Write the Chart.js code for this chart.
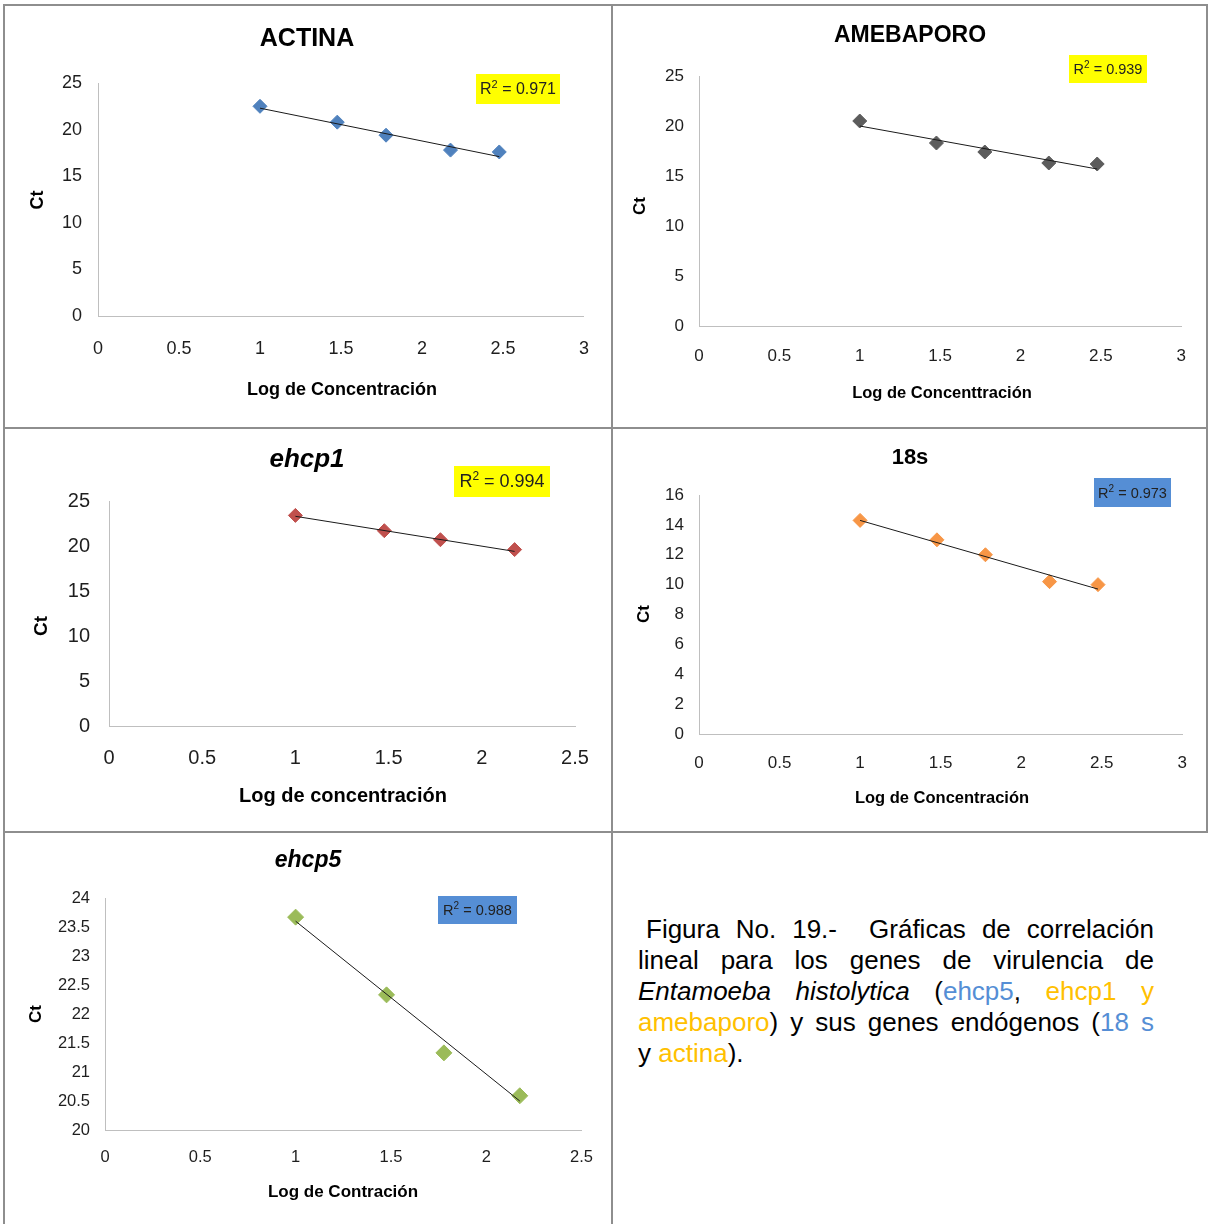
<!DOCTYPE html>
<html>
<head>
<meta charset="utf-8">
<script src="https://cdn.jsdelivr.net/npm/chart.js@4.4.1/dist/chart.umd.min.js"></script>
<style>
body { margin: 0; background: #fff; width: 1208px; height: 1224px; position: relative; overflow: hidden; }
canvas { position: absolute; }
.ln { position: absolute; background: #8e8e8e; }
#caption { position: absolute; left: 638px; top: 914px; width: 516px; font: 26px 'Liberation Sans', Arial, sans-serif; line-height: 31px; color: #000; }
#caption div { text-align: justify; text-align-last: justify; }
#caption div.first { padding-left: 8px; }
#caption div.last { text-align-last: left; }
.b { color: #558ed5; }
.y { color: #ffc000; }
</style>
</head>
<body>
<div class="ln" style="left:3px;top:4px;width:1205px;height:2px"></div>
<div class="ln" style="left:3px;top:4px;width:2px;height:1220px"></div>
<div class="ln" style="left:1206px;top:4px;width:2px;height:829px"></div>
<div class="ln" style="left:611px;top:4px;width:2px;height:1220px"></div>
<div class="ln" style="left:3px;top:427px;width:1205px;height:2px"></div>
<div class="ln" style="left:3px;top:831px;width:1205px;height:2px"></div>

<canvas id="c1"></canvas>
<canvas id="c2"></canvas>
<canvas id="c3"></canvas>
<canvas id="c4"></canvas>
<canvas id="c5"></canvas>

<div id="caption">
  <div class="first">Figura No. 19.-&nbsp; Gráficas de correlación</div>
  <div>lineal para los genes de virulencia de</div>
  <div><i>Entamoeba histolytica</i> (<span class="b">ehcp5</span>, <span class="y">ehcp1 y</span></div>
  <div><span class="y">amebaporo</span>) y sus genes endógenos (<span class="b">18 s</span></div>
  <div class="last">y <span class="y">actina</span>).</div>
</div>

<script>
// log de concentración (10, 30, 60, 150, 300)
const xLog = [1, 1.477, 1.778, 2.176, 2.477];
const xLog4 = [1, 1.477, 1.778, 2.176];

const actinaCt = [22.5, 20.8, 19.4, 17.8, 17.6];
const amebaporoCt = [20.5, 18.3, 17.4, 16.3, 16.2];
const ehcp1Ct = [23.4, 21.7, 20.7, 19.6];
const s18Ct = [14.3, 13.0, 12.0, 10.2, 10.0];
const ehcp5Ct = [23.67, 22.33, 21.33, 20.59];

// línea de tendencia: Ct al inicio y al final
const trendActina = [22.3, 17.1];
const trendAmebaporo = [20.0, 15.7];
const trendEhcp1 = [23.3, 19.4];
const trendS18 = [14.3, 9.7];
const trendEhcp5 = [23.6, 20.5];

// R cuadrado
const r2Values = ['0.971', '0.939', '0.994', '0.973', '0.988'];

const SANS = "'Liberation Sans',Arial,sans-serif";

const panels = [
  { id: 'c1', cell: [5, 6, 606, 421], area: [98, 83, 586, 316], xMax: 3, yMin: 0, yMax: 25, yStep: 5,
    xs: xLog, ys: actinaCt, trend: trendActina, color: '#4f81bd', r: 7,
    tickSize: 18, xPad: 22, yPad: 16,
    title: 'ACTINA', titleFont: 'bold 25px ' + SANS, titlePos: [307, 39],
    xTitle: 'Log de Concentración', xTitleFont: 'bold 18px ' + SANS, xTitlePos: [342, 390],
    yTitleFont: 'bold 18px ' + SANS, yTitlePos: [38, 200],
    r2: r2Values[0], box: [476, 74, 84, 30], boxColor: '#ffff00', r2Size: 16 },
  { id: 'c2', cell: [614, 6, 592, 421], area: [699, 76, 1185, 326], xMax: 3, yMin: 0, yMax: 25, yStep: 5,
    xs: xLog, ys: amebaporoCt, trend: trendAmebaporo, color: '#5c5c5c', r: 7,
    tickSize: 17, xPad: 20, yPad: 15,
    title: 'AMEBAPORO', titleFont: 'bold 23px ' + SANS, titlePos: [910, 36],
    xTitle: 'Log de Concenttración', xTitleFont: 'bold 16.5px ' + SANS, xTitlePos: [942, 393],
    yTitleFont: 'bold 17px ' + SANS, yTitlePos: [640, 206],
    r2: r2Values[1], box: [1069, 55, 78, 28], boxColor: '#ffff00', r2Size: 14.5 },
  { id: 'c3', cell: [5, 429, 606, 402], area: [109, 501, 575, 726], xMax: 2.5, yMin: 0, yMax: 25, yStep: 5,
    xs: xLog4, ys: ehcp1Ct, trend: trendEhcp1, color: '#c0504d', r: 7,
    tickSize: 20, xPad: 20, yPad: 19,
    title: 'ehcp1', titleFont: 'italic bold 26px ' + SANS, titlePos: [307, 460],
    xTitle: 'Log de concentración', xTitleFont: 'bold 20px ' + SANS, xTitlePos: [343, 796],
    yTitleFont: 'bold 19px ' + SANS, yTitlePos: [42, 626],
    r2: r2Values[2], box: [454, 466, 96, 31], boxColor: '#ffff00', r2Size: 18 },
  { id: 'c4', cell: [614, 429, 592, 402], area: [699, 495, 1185, 734], xMax: 3, yMin: 0, yMax: 16, yStep: 2,
    xs: xLog, ys: s18Ct, trend: trendS18, color: '#f79646', r: 7,
    tickSize: 17, xPad: 19, yPad: 15,
    title: '18s', titleFont: 'bold 22px ' + SANS, titlePos: [910, 458],
    xTitle: 'Log de Concentración', xTitleFont: 'bold 16.5px ' + SANS, xTitlePos: [942, 798],
    yTitleFont: 'bold 17px ' + SANS, yTitlePos: [644, 614],
    r2: r2Values[3], box: [1094, 478, 77, 29], boxColor: '#558ed5', r2Size: 14.5 },
  { id: 'c5', cell: [5, 833, 606, 391], area: [105, 898, 582, 1130], xMax: 2.5, yMin: 20, yMax: 24, yStep: 0.5,
    xs: xLog4, ys: ehcp5Ct, trend: trendEhcp5, color: '#9bbb59', r: 8,
    tickSize: 16.5, xPad: 18, yPad: 15,
    title: 'ehcp5', titleFont: 'italic bold 23px ' + SANS, titlePos: [308, 861],
    xTitle: 'Log de Contración', xTitleFont: 'bold 17px ' + SANS, xTitlePos: [343, 1192],
    yTitleFont: 'bold 17px ' + SANS, yTitlePos: [36, 1014],
    r2: r2Values[4], box: [438, 896, 79, 28], boxColor: '#558ed5', r2Size: 14.5 }
];

// textos de cada panel (título, ejes, caja de R²)
const panelText = {
  id: 'panelText',
  afterDraw(chart, args, o) {
    const p = o.p;
    const ox = p.cell[0], oy = p.cell[1];
    const c = chart.ctx;
    c.save();
    c.fillStyle = '#000';
    c.textAlign = 'center';
    c.textBaseline = 'middle';
    c.font = p.titleFont;
    c.fillText(p.title, p.titlePos[0] - ox, p.titlePos[1] - oy);
    c.font = p.xTitleFont;
    c.fillText(p.xTitle, p.xTitlePos[0] - ox, p.xTitlePos[1] - oy);
    c.save();
    c.translate(p.yTitlePos[0] - ox, p.yTitlePos[1] - oy);
    c.rotate(-Math.PI / 2);
    c.font = p.yTitleFont;
    c.fillText('Ct', 0, 0);
    c.restore();

    // caja R²
    const bx = p.box[0] - ox, by = p.box[1] - oy;
    c.fillStyle = p.boxColor;
    c.fillRect(bx, by, p.box[2], p.box[3]);
    const big = p.r2Size + 'px ' + SANS;
    const small = Math.round(p.r2Size * 0.68) + 'px ' + SANS;
    const rest = ' = ' + p.r2;
    c.font = big;
    const wR = c.measureText('R').width, wRest = c.measureText(rest).width;
    c.font = small;
    const w2 = c.measureText('2').width;
    let x = bx + (p.box[2] - wR - w2 - wRest) / 2;
    const cy = by + p.box[3] / 2 + 1;
    c.fillStyle = '#222';
    c.textAlign = 'left';
    c.font = big;
    c.fillText('R', x, cy);
    x += wR;
    c.font = small;
    c.fillText('2', x, cy - p.r2Size * 0.32);
    x += w2;
    c.font = big;
    c.fillText(rest, x, cy);
    c.restore();
  }
};

const fmt = v => String(Math.round(v * 10) / 10);

panels.forEach(p => {
  const cv = document.getElementById(p.id);
  const [cx, cy, cw, ch] = p.cell;
  cv.style.left = cx + 'px';
  cv.style.top = cy + 'px';
  cv.width = cw;
  cv.height = ch;

  const points = p.xs.map((x, i) => ({ x: x, y: p.ys[i] }));
  const trendPts = [
    { x: p.xs[0], y: p.trend[0] },
    { x: p.xs[p.xs.length - 1], y: p.trend[1] }
  ];

  // área deseada en coordenadas del canvas
  const want = { left: p.area[0] - cx, top: p.area[1] - cy, right: p.area[2] - cx, bottom: p.area[3] - cy };
  const size = { w: want.left, h: ch - want.bottom };

  const chart = new Chart(cv, {
    type: 'scatter',
    data: {
      datasets: [
        {
          type: 'line',
          data: trendPts,
          borderColor: '#1a1a1a',
          borderWidth: 1,
          pointRadius: 0,
          fill: false
        },
        {
          data: points,
          pointStyle: 'rectRot',
          pointRadius: p.r,
          pointBackgroundColor: p.color,
          pointBorderColor: p.color,
          pointBorderWidth: 1
        }
      ]
    },
    options: {
      responsive: false,
      animation: false,
      devicePixelRatio: 1,
      layout: { padding: { left: 0, top: want.top, right: cw - want.right, bottom: 0 } },
      plugins: {
        legend: { display: false },
        tooltip: { enabled: false },
        panelText: { p: p }
      },
      scales: {
        x: {
          type: 'linear',
          min: 0,
          max: p.xMax,
          grid: { display: false, drawTicks: false },
          border: { display: true, color: '#bfbfbf', width: 1 },
          ticks: { stepSize: 0.5, padding: p.xPad, color: '#1e1e1e', font: { family: SANS, size: p.tickSize }, callback: fmt },
          afterFit: s => { s.height = size.h; }
        },
        y: {
          min: p.yMin,
          max: p.yMax,
          grid: { display: false, drawTicks: false },
          border: { display: true, color: '#bfbfbf', width: 1 },
          ticks: { stepSize: p.yStep, padding: p.yPad, color: '#1e1e1e', font: { family: SANS, size: p.tickSize }, callback: fmt },
          afterFit: s => { s.width = size.w; }
        }
      }
    },
    plugins: [panelText]
  });

  // corregir el área si el layout la movió (dos pasadas)
  for (let k = 0; k < 2; k++) {
    const a = chart.chartArea;
    const pad = chart.options.layout.padding;
    pad.right += a.right - want.right;
    pad.top += want.top - a.top;
    size.w += want.left - a.left;
    size.h += a.bottom - want.bottom;
    chart.update();
  }
});
</script>
</body>
</html>
